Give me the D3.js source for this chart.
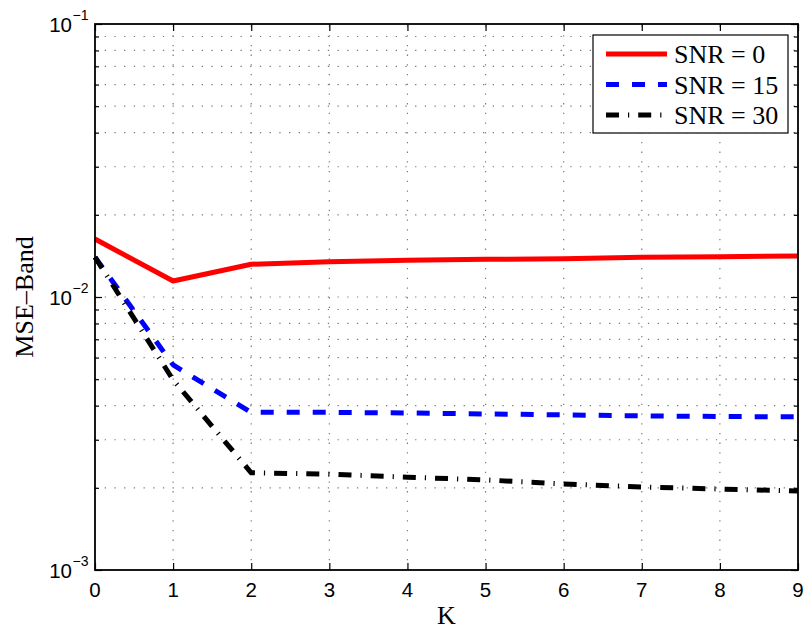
<!DOCTYPE html>
<html>
<head>
<meta charset="utf-8">
<script src="https://cdn.jsdelivr.net/npm/d3@7"></script>
<style>
  html, body { margin: 0; padding: 0; background: #fff; }
  svg { display: block; }
</style>
</head>
<body>
<svg id="chart" width="806" height="631"></svg>
<script>
// ---- data ----
const kValues = [0, 1, 2, 3, 4, 5, 6, 7, 8, 9];
const snr0  = [0.0163, 0.01144, 0.01318, 0.01347, 0.01363, 0.01374, 0.01381, 0.01397, 0.01405, 0.01413];
const snr15 = [0.0140, 0.00564, 0.00378, 0.00378, 0.00376, 0.00373, 0.00370, 0.00367, 0.00365, 0.00364];
const snr30 = [0.0140, 0.00497, 0.00227, 0.002244, 0.002188, 0.002138, 0.002066, 0.002014, 0.00198, 0.001946];
const seriesNames = ["SNR = 0", "SNR = 15", "SNR = 30"];
const xTicks = [0, 1, 2, 3, 4, 5, 6, 7, 8, 9];
const yMajorExps = [-3, -2, -1];
const xLabel = "K";
const yLabel = "MSE\u2013Band";

const SANS = "Liberation Sans";
const SERIF = "Liberation Serif";

// ---- layout ----
const svg = d3.select("#chart");
const L = 95, R = 798, T = 24, B = 570;
const x = d3.scaleLinear().domain([0, 9]).range([L, R]);
const y = d3.scaleLog().domain([1e-3, 1e-1]).range([B, T]);

const series = [
  { name: seriesNames[0], values: snr0,  color: "#ff0000", dash: null },
  { name: seriesNames[1], values: snr15, color: "#0000ff", dash: "13 13" },
  { name: seriesNames[2], values: snr30, color: "#000000", dash: "13 9 1.2 9" }
];

const yAllTicks = [];
for (let e = -3; e <= -2; e++) {
  for (let m = 1; m <= 9; m++) yAllTicks.push(m * Math.pow(10, e));
}
yAllTicks.push(1e-1);

// grid
const grid = svg.append("g").attr("stroke", "#7a7a7a").attr("stroke-width", 1.2)
  .attr("stroke-dasharray", "1.3 8.4").attr("fill", "none");
yAllTicks.filter(v => v > 1e-3 && v < 1e-1).forEach(v => {
  grid.append("line").attr("x1", L).attr("x2", R).attr("y1", y(v)).attr("y2", y(v));
});
xTicks.filter(v => v > 0 && v < 9).forEach(v => {
  grid.append("line").attr("x1", x(v)).attr("x2", x(v)).attr("y1", B).attr("y2", T);
});

// lines
const line = d3.line().x((d, i) => x(kValues[i])).y(d => y(d));
series.forEach(s => {
  svg.append("path")
    .datum(s.values)
    .attr("d", line)
    .attr("fill", "none")
    .attr("stroke", s.color)
    .attr("stroke-width", 5)
    .attr("stroke-linejoin", "round")
    .attr("stroke-dasharray", s.dash);
});

// axes
const axG = svg.append("g");
axG.append("g").attr("transform", `translate(0,${B})`)
  .call(d3.axisBottom(x).tickValues(xTicks).tickSize(-7).tickFormat("").tickSizeOuter(0));
axG.append("g").attr("transform", `translate(0,${T})`)
  .call(d3.axisTop(x).tickValues(xTicks).tickSize(-7).tickFormat("").tickSizeOuter(0));
const gl = axG.append("g").attr("transform", `translate(${L},0)`)
  .call(d3.axisLeft(y).tickValues(yAllTicks).tickFormat("").tickSizeOuter(0).tickSize(-4));
const gr = axG.append("g").attr("transform", `translate(${R},0)`)
  .call(d3.axisRight(y).tickValues(yAllTicks).tickFormat("").tickSizeOuter(0).tickSize(-4));
[gl, gr].forEach((g, gi) => {
  g.selectAll(".tick").filter(d => yMajorExps.some(e => Math.abs(Math.log10(d) - e) < 1e-9))
    .select("line").attr("x2", gi === 0 ? 7 : -7);
});
axG.selectAll(".domain").remove();
axG.selectAll(".tick line").attr("stroke", "#000").attr("stroke-width", 1.2);
svg.append("rect").attr("x", L).attr("y", T).attr("width", R - L).attr("height", B - T)
  .attr("fill", "none").attr("stroke", "#000").attr("stroke-width", 1.8);

// x tick labels
svg.append("g").selectAll("text").data(xTicks).join("text")
  .attr("x", d => x(d)).attr("y", 597)
  .attr("text-anchor", "middle")
  .attr("font-family", SANS).attr("font-size", "20.5px")
  .text(d => d);

// y tick labels
yMajorExps.forEach(e => {
  const yy = y(Math.pow(10, e));
  svg.append("text")
    .attr("x", 72).attr("y", yy + 7.5)
    .attr("text-anchor", "end")
    .attr("font-family", SANS).attr("font-size", "20.5px")
    .text("10");
  svg.append("text")
    .attr("x", 72.5).attr("y", yy - 4.5)
    .attr("text-anchor", "start")
    .attr("font-family", SANS).attr("font-size", "14px")
    .text("\u2212" + Math.abs(e));
});

// axis labels
svg.append("text")
  .attr("x", x(4.5)).attr("y", 624)
  .attr("text-anchor", "middle")
  .attr("font-family", SERIF).attr("font-size", "26px")
  .text(xLabel);
svg.append("text")
  .attr("transform", `translate(33,${(T + B) / 2}) rotate(-90)`)
  .attr("text-anchor", "middle")
  .attr("font-family", SERIF).attr("font-size", "26px")
  .text(yLabel);

// legend
const lg = svg.append("g");
lg.append("rect").attr("x", 593).attr("y", 35).attr("width", 195).attr("height", 98)
  .attr("fill", "#fff").attr("stroke", "#000").attr("stroke-width", 1.2);
series.forEach((s, i) => {
  const ly = 54 + i * 30.5;
  lg.append("line").attr("x1", 606).attr("x2", 667).attr("y1", ly).attr("y2", ly)
    .attr("stroke", s.color).attr("stroke-width", 5)
    .attr("stroke-dasharray", s.dash);
  lg.append("text")
    .attr("x", 674).attr("y", ly + 9)
    .attr("font-family", SERIF).attr("font-size", "26px")
    .text(s.name);
});
</script>
</body>
</html>
